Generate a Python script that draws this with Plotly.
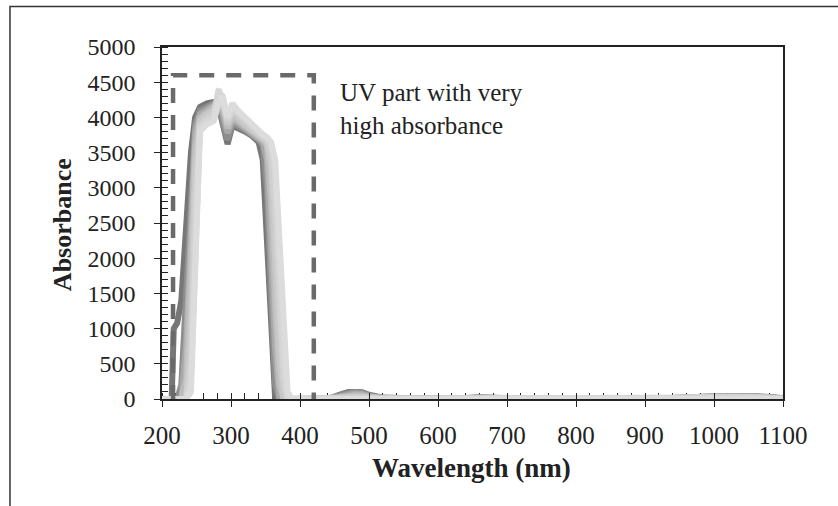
import plotly.graph_objects as go

# ---------------- data ----------------
wavelength = [190, 200, 210, 214, 217, 222, 228, 235, 242, 248, 255, 265, 275, 282, 288, 295,
              302, 310, 320, 330, 340, 346, 352, 358, 364, 370, 376, 382, 388,
              400, 440, 460, 470, 480, 490, 500, 520, 560, 620, 660, 680, 720, 800, 880, 940,
              1000, 1030, 1060, 1090, 1100]

sample_1 = [0, 0, 0, 0, 1000, 1080, 1400, 2500, 3500, 4000, 4150, 4200, 4220, 4150, 3900, 3620,
            3880, 3850, 3800, 3740, 3650, 3400, 2200, 800, 0, 0, 0, 0, 0,
            0, 0, 70, 100, 100, 95, 60, 20, 10, 5, 25, 15, 5, 0, 5, 15, 40, 50, 40, 20, 10]
sample_2 = [0, 0, 0, 0, 0, 0, 200, 1500, 3100, 3900, 4100, 4150, 4200, 4180, 3950, 3680,
            3900, 3880, 3820, 3760, 3680, 3600, 3000, 1500, 200, 0, 0, 0, 0,
            0, 0, 60, 90, 95, 90, 50, 15, 8, 5, 20, 12, 5, 0, 5, 15, 35, 45, 35, 15, 5]
sample_3 = [0, 0, 0, 0, 0, 0, 0, 800, 2600, 3800, 4050, 4120, 4180, 4200, 4050, 3780,
            3950, 3920, 3850, 3780, 3700, 3650, 3400, 2200, 700, 0, 0, 0, 0,
            0, 0, 40, 70, 80, 70, 40, 10, 5, 5, 20, 10, 5, 0, 5, 15, 35, 40, 30, 10, 5]
sample_4 = [0, 0, 0, 0, 0, 0, 0, 300, 2000, 3600, 4000, 4080, 4150, 4250, 4150, 3850,
            4000, 3950, 3880, 3800, 3720, 3680, 3600, 2800, 1300, 200, 0, 0, 0,
            0, 0, 30, 50, 55, 50, 30, 10, 5, 5, 20, 10, 5, 0, 5, 15, 35, 45, 35, 15, 5]
sample_5 = [0, 0, 0, 0, 0, 0, 0, 0, 1200, 3300, 3950, 4050, 4100, 4300, 4200, 3900,
            4050, 4000, 3900, 3820, 3750, 3700, 3650, 3300, 2000, 600, 0, 0, 0,
            0, 0, 20, 30, 35, 30, 20, 8, 5, 5, 15, 10, 5, 0, 5, 12, 30, 40, 30, 12, 5]
sample_6 = [0, 0, 0, 0, 0, 0, 0, 0, 600, 2800, 3900, 4000, 4050, 4350, 4300, 3950,
            4100, 4050, 3950, 3850, 3780, 3720, 3680, 3500, 2600, 1200, 200, 0, 0,
            0, 0, 10, 20, 25, 20, 10, 5, 3, 3, 10, 8, 3, 0, 3, 10, 25, 30, 25, 10, 3]
sample_7 = [0, 0, 0, 0, 0, 0, 0, 0, 300, 2200, 3850, 3950, 4000, 4400, 4250, 3980,
            4150, 4080, 3980, 3880, 3800, 3750, 3700, 3620, 3200, 1800, 500, 0, 0,
            0, 0, 0, 10, 15, 10, 5, 3, 0, 0, 5, 5, 0, 0, 0, 5, 20, 25, 20, 5, 0]
sample_8 = [0, 0, 0, 0, 0, 0, 0, 0, 100, 1800, 3800, 3900, 3950, 4200, 4300, 4000,
            4200, 4100, 4000, 3900, 3820, 3760, 3720, 3650, 3400, 2300, 900, 100, 0,
            0, 0, 0, 5, 10, 5, 0, 0, 0, 0, 5, 5, 0, 0, 0, 5, 15, 20, 15, 5, 0]

samples = [sample_1, sample_2, sample_3, sample_4, sample_5, sample_6, sample_7, sample_8]
greys = ["#777777", "#8e8e8e", "#a8a8a8", "#bcbcbc", "#c8c8c8", "#d0d0d0", "#d6d6d6", "#dcdcdc"]

x_ticks = [200, 300, 400, 500, 600, 700, 800, 900, 1000, 1100]
y_ticks = [0, 500, 1000, 1500, 2000, 2500, 3000, 3500, 4000, 4500, 5000]

uv_box_x = [216, 420]
uv_box_y = [-40, 4600]
annotation_text = "UV part with very<br>high absorbance"

# ---------------- figure ----------------
FONT = "Liberation Serif"
fig = go.Figure()
for vals, col in zip(samples, greys):
    fig.add_trace(go.Scatter(x=wavelength, y=vals, mode="lines",
                             line=dict(color=col, width=6), showlegend=False,
                             hoverinfo="skip"))
# invisible trace to anchor the overlay axes
fig.add_trace(go.Scatter(x=[200], y=[0], xaxis="x2", yaxis="y2", mode="markers",
                         marker=dict(opacity=0), showlegend=False, hoverinfo="skip"))

axis_common = dict(showgrid=False, zeroline=False, showline=True, linecolor="#222",
                   linewidth=1.5, mirror=True, ticks="outside", ticklen=6,
                   tickwidth=1.3, tickcolor="#222", layer="below traces")

fig.update_layout(
    width=838, height=506,
    margin=dict(l=162, r=55, t=47, b=107),
    paper_bgcolor="white", plot_bgcolor="white",
    font=dict(family=FONT, color="#222"),
    xaxis=dict(range=[200, 1100], tickvals=x_ticks, ticktext=[str(v) for v in x_ticks],
               tickfont=dict(family=FONT, size=25, color="#222"), ticklabelstandoff=7,
               minor=dict(dtick=20, ticks="inside", ticklen=6, tickcolor="#222", tickwidth=1.3),
               **axis_common),
    yaxis=dict(range=[0, 5000], tickvals=y_ticks, ticktext=[str(v) for v in y_ticks],
               tickfont=dict(family=FONT, size=24, color="#222"), ticklabelstandoff=14,
               minor=dict(dtick=100, ticks="inside", ticklen=6, tickcolor="#222", tickwidth=1.3),
               **axis_common),
    xaxis2=dict(range=[200, 1100], overlaying="x", tickvals=x_ticks, ticks="inside",
                ticklen=6, tickwidth=1.3, tickcolor="#222", showticklabels=False,
                showgrid=False, zeroline=False, showline=False, anchor="y2"),
    yaxis2=dict(range=[0, 5000], overlaying="y", tickvals=y_ticks, ticks="inside",
                ticklen=6, tickwidth=1.3, tickcolor="#222", showticklabels=False,
                showgrid=False, zeroline=False, showline=False, anchor="x2"),
)

# dashed UV box
fig.add_shape(type="rect", xref="x", yref="y", x0=uv_box_x[0], x1=uv_box_x[1],
              y0=uv_box_y[0], y1=uv_box_y[1], layer="above",
              line=dict(color="#6a6a6a", width=4.5, dash="15px,12px"))

# outer frame (paper coords)
fig.add_shape(type="rect", xref="paper", yref="paper", x0=-0.2448, x1=1.2,
              y0=-0.4, y1=1.115, layer="above", line=dict(color="#333", width=1.5))

fig.add_annotation(x=455, y=4580, xref="x", yref="y", text=annotation_text,
                   showarrow=False, xanchor="left", yanchor="top", align="left",
                   font=dict(family=FONT, size=25, color="#222"))

fig.add_annotation(x=-0.161, y=0.494, xref="paper", yref="paper", text="<b>Absorbance</b>",
                   textangle=-90, showarrow=False, xanchor="center", yanchor="middle",
                   font=dict(family=FONT, size=26, color="#222"))
fig.add_annotation(x=0.499, y=-0.196, xref="paper", yref="paper",
                   text="<b>Wavelength (nm)</b>", showarrow=False,
                   xanchor="center", yanchor="middle",
                   font=dict(family=FONT, size=27, color="#222"))

fig.write_html("out.html")
